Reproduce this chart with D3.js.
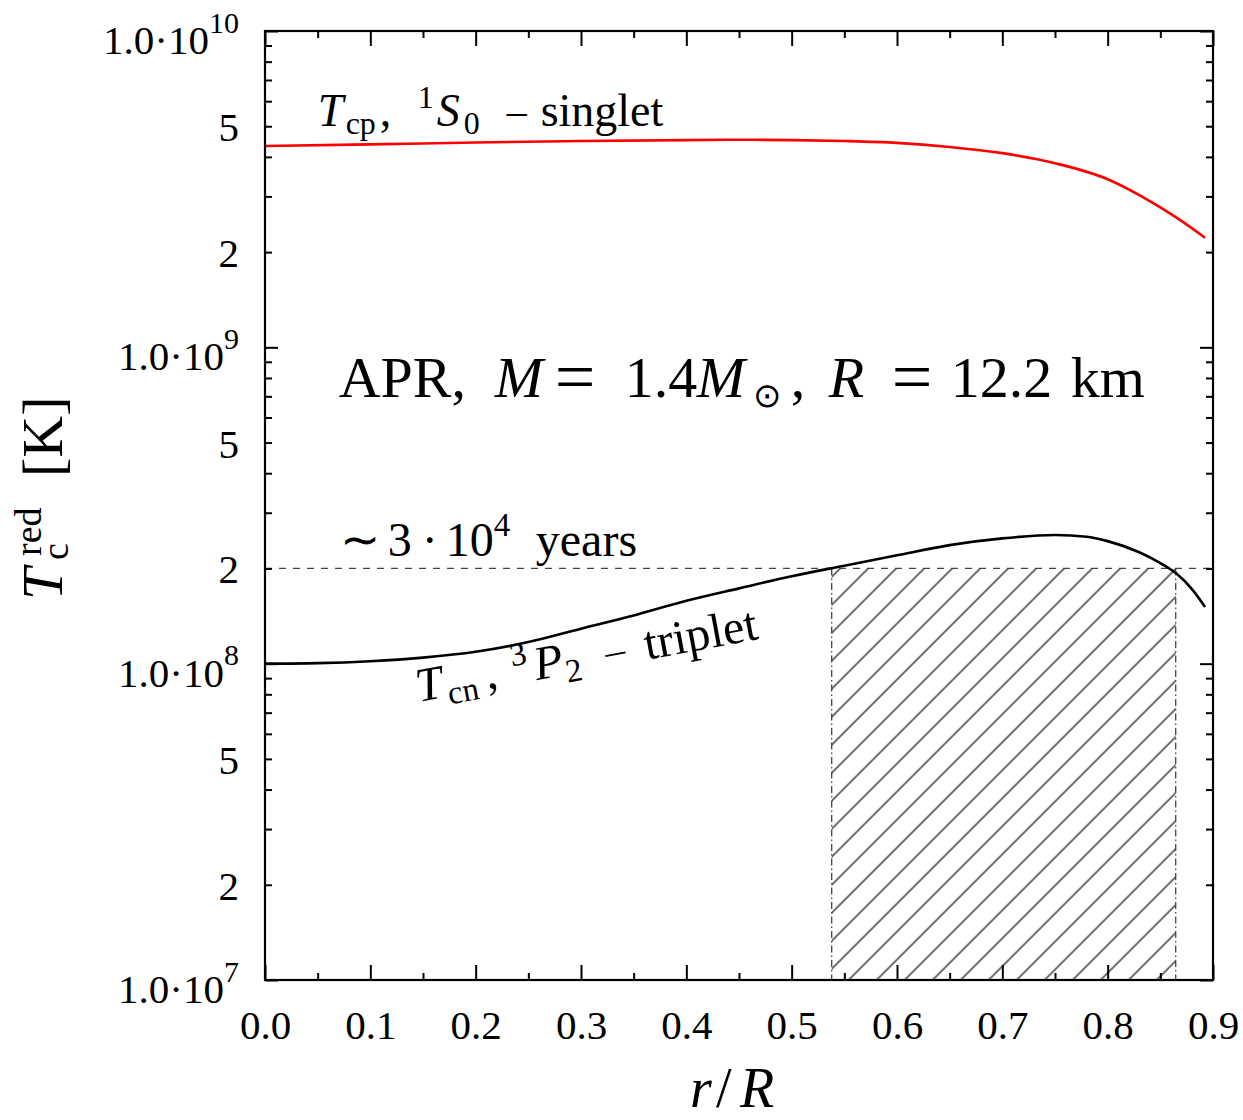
<!DOCTYPE html>
<html>
<head>
<meta charset="utf-8">
<script src="https://cdn.jsdelivr.net/npm/d3@7"></script>
<style>
  body { margin: 0; background: #fff; }
  svg text { font-family: "Liberation Serif", "Times New Roman", serif; fill: #000; }
</style>
</head>
<body>
<svg id="chart" width="1243" height="1120"></svg>
<script>
// ---- data ----
// proton 1S0 singlet, K
var rCp = [0, 0.1, 0.2, 0.3, 0.4, 0.45, 0.5, 0.55, 0.6, 0.65, 0.7, 0.75, 0.8, 0.83, 0.85, 0.87, 0.8925];
var tcpValues = [4.33e9, 4.38e9, 4.44e9, 4.49e9, 4.52e9, 4.53e9, 4.52e9, 4.49e9, 4.43e9, 4.30e9, 4.11e9, 3.82e9, 3.40e9, 3.03e9, 2.77e9, 2.51e9, 2.22e9];
// neutron 3P2 triplet, K
var rCn = [0, 0.05, 0.1, 0.15, 0.2, 0.25, 0.3, 0.35, 0.4, 0.45, 0.5, 0.55, 0.6, 0.65, 0.7, 0.75, 0.78, 0.8, 0.83, 0.85, 0.865, 0.88, 0.8925];
var tcnValues = [1.00e8, 1.004e8, 1.018e8, 1.045e8, 1.09e8, 1.17e8, 1.29e8, 1.42e8, 1.58e8, 1.73e8, 1.89e8, 2.04e8, 2.20e8, 2.37e8, 2.49e8, 2.55e8, 2.52e8, 2.44e8, 2.25e8, 2.08e8, 1.93e8, 1.72e8, 1.51e8];

var ageLevel = 2e8;            // ~3e4 years
var hatchRange = [0.538, 0.8646];

var xMajor = [0, 0.1, 0.2, 0.3, 0.4, 0.5, 0.6, 0.7, 0.8, 0.9];
var xMinor = [0.05, 0.15, 0.25, 0.35, 0.45, 0.55, 0.65, 0.75, 0.85];
var yDecades = [1e7, 1e8, 1e9, 1e10];
var yDecadeExp = ["7", "8", "9", "10"];
var yLabeledMinor = [2e7, 5e7, 2e8, 5e8, 2e9, 5e9];
var yMinorLabels = ["2", "5", "2", "5", "2", "5"];

var svg = d3.select("#chart");
var margin = {left: 265, right: 30, top: 31, bottom: 140};
var W = 1243, H = 1120;

var x = d3.scaleLinear().domain([0, 0.9]).range([margin.left, W - margin.right]);
var y = d3.scaleLog().domain([1e7, 1e10]).range([H - margin.bottom, margin.top]);

var yMinor = [];
yDecades.slice(0, 3).forEach(function (d) {
    for (var k = 2; k <= 9; k++) yMinor.push(d * k);
});

// hatch pattern
var defs = svg.append("defs");
defs.append("clipPath").attr("id", "plotclip")
    .append("rect")
    .attr("x", x(0)).attr("y", y(1e10))
    .attr("width", x(0.9) - x(0)).attr("height", y(1e7) - y(1e10));
var pat = defs.append("pattern")
    .attr("id", "hatch")
    .attr("patternUnits", "userSpaceOnUse")
    .attr("width", 19.8).attr("height", 20)
    .attr("patternTransform", "translate(" + x(hatchRange[0]) + "," + y(ageLevel) + ") rotate(45)");
pat.append("line")
    .attr("x1", 6).attr("y1", -5).attr("x2", 6).attr("y2", 25)
    .attr("stroke", "#333").attr("stroke-width", 1.4);

var plot = svg.append("g").attr("clip-path", "url(#plotclip)");

// hatched region below the age level
plot.append("rect")
    .attr("x", x(hatchRange[0]))
    .attr("y", y(ageLevel))
    .attr("width", x(hatchRange[1]) - x(hatchRange[0]))
    .attr("height", y(1e7) - y(ageLevel))
    .attr("fill", "url(#hatch)");

// vertical dash-dot borders of the region
plot.selectAll(".vb")
    .data(hatchRange)
    .enter().append("line")
    .attr("x1", function (d) { return x(d); })
    .attr("x2", function (d) { return x(d); })
    .attr("y1", y(ageLevel))
    .attr("y2", y(1e7))
    .attr("stroke", "#444")
    .attr("stroke-width", 1.3)
    .attr("stroke-dasharray", "7,3,1.5,3");

// horizontal dashed age line
plot.append("line")
    .attr("x1", x(0)).attr("x2", x(0.9))
    .attr("y1", y(ageLevel)).attr("y2", y(ageLevel))
    .attr("stroke", "#444")
    .attr("stroke-width", 1.3)
    .attr("stroke-dasharray", "7,7");

var line = d3.line()
    .x(function (d) { return x(d[0]); })
    .y(function (d) { return y(d[1]); })
    .curve(d3.curveMonotoneX);

plot.append("path")
    .attr("d", line(d3.zip(rCp, tcpValues)))
    .attr("fill", "none")
    .attr("stroke", "#ff0000")
    .attr("stroke-width", 2.6);

plot.append("path")
    .attr("d", line(d3.zip(rCn, tcnValues)))
    .attr("fill", "none")
    .attr("stroke", "#000")
    .attr("stroke-width", 2.6);

// ---- axes: ticks pointing inwards on all four sides ----
function tidy(g) {
    g.select(".domain").remove();
    g.selectAll(".tick line").attr("stroke", "#000").attr("stroke-width", 2);
}

svg.append("g")
    .attr("transform", "translate(0," + y(1e7) + ")")
    .call(d3.axisBottom(x).tickValues(xMajor).tickSizeInner(-15).tickSizeOuter(0)
        .tickPadding(30).tickFormat(d3.format(".1f")))
    .call(tidy)
    .call(function (g) {
        g.selectAll("text").attr("font-family", "Liberation Serif").attr("font-size", 41);
    });
svg.append("g")
    .attr("transform", "translate(0," + y(1e7) + ")")
    .call(d3.axisBottom(x).tickValues(xMinor).tickSize(-7).tickFormat(""))
    .call(tidy);
svg.append("g")
    .attr("transform", "translate(0," + y(1e10) + ")")
    .call(d3.axisTop(x).tickValues(xMajor).tickSize(-15).tickFormat(""))
    .call(tidy);
svg.append("g")
    .attr("transform", "translate(0," + y(1e10) + ")")
    .call(d3.axisTop(x).tickValues(xMinor).tickSize(-7).tickFormat(""))
    .call(tidy);

[[d3.axisLeft, x(0)], [d3.axisRight, x(0.9)]].forEach(function (a) {
    svg.append("g")
        .attr("transform", "translate(" + a[1] + ",0)")
        .call(a[0](y).tickValues(yDecades).tickSize(-13).tickFormat(""))
        .call(tidy);
    svg.append("g")
        .attr("transform", "translate(" + a[1] + ",0)")
        .call(a[0](y).tickValues(yMinor).tickSize(-7).tickFormat(""))
        .call(tidy);
});

// frame
svg.append("rect")
    .attr("x", x(0)).attr("y", y(1e10))
    .attr("width", x(0.9) - x(0)).attr("height", y(1e7) - y(1e10))
    .attr("fill", "none").attr("stroke", "#000").attr("stroke-width", 2.2);

// y tick labels
var yLab = svg.append("g").attr("font-size", 41).attr("text-anchor", "end");
yLab.selectAll(".dec")
    .data(d3.zip(yDecades, yDecadeExp))
    .enter().append("text")
    .attr("x", x(0) - 26)
    .attr("y", function (d) { return y(d[0]) + 23; })
    .each(function (d) {
        var t = d3.select(this);
        t.append("tspan").text("1.0\u00b710");
        t.append("tspan").attr("font-size", 30).attr("dy", -21.5).text(d[1]);
    });
yLab.selectAll(".min")
    .data(d3.zip(yLabeledMinor, yMinorLabels))
    .enter().append("text")
    .attr("x", x(0) - 26)
    .attr("y", function (d) { return y(d[0]) + 15; })
    .text(function (d) { return d[1]; });

// ---- rich text helper: parts placed at offsets from a start point ----
function mathText(g, x0, y0, size, parts) {
    var t = g.append("text").attr("x", x0).attr("y", y0).attr("font-size", size);
    var cur = 0;
    parts.forEach(function (p) {
        var off = p.off || 0;
        var ts = t.append("tspan").text(p.t).attr("dy", off - cur);
        cur = off;
        if (p.at !== undefined) ts.attr("x", x0 + p.at);
        if (p.i) ts.attr("font-style", "italic");
        if (p.s) ts.attr("font-size", p.s);
    });
    return t;
}

var notes = svg.append("g");

mathText(notes, x(0.05), y(5.0e9), 46, [
    {t: "T", i: 1, at: 0},
    {t: "cp", s: 32, off: 8, at: 28},
    {t: ",", at: 62},
    {t: "1", s: 32, off: -18, at: 100},
    {t: "S", i: 1, at: 119},
    {t: "0", s: 32, off: 8, at: 146},
    {t: "\u2013", s: 40, off: -2, at: 189},
    {t: "singlet", at: 223}
]);

mathText(notes, x(0.07), y(6.97e8), 58, [
    {t: "APR,", at: 0},
    {t: "M", i: 1, at: 156},
    {t: "=", s: 72, off: 4, at: 216},
    {t: "1.4", at: 286},
    {t: "M", i: 1, at: 358},
    {t: "\u2299", s: 34, off: 10, at: 414},
    {t: ",", at: 452},
    {t: "R", i: 1, at: 490},
    {t: "=", s: 72, off: 4, at: 553},
    {t: "12.2", at: 612},
    {t: "km", at: 732}
]);

mathText(notes, x(0.071), y(2.19e8), 48, [
    {t: "\u223c", at: 0},
    {t: "3", at: 48},
    {t: "\u00b7", at: 82},
    {t: "10", at: 106},
    {t: "4", s: 33, off: -20, at: 154},
    {t: "years", at: 196}
]);

var tri = notes.append("g")
    .attr("transform", "translate(" + x(0.146) + "," + y(7.56e7) + ") rotate(-10.5)");
mathText(tri, 0, 0, 48, [
    {t: "T", i: 1, at: 0},
    {t: "cn", s: 33, off: 8, at: 30},
    {t: ",", at: 70},
    {t: "3", s: 33, off: -18, at: 98},
    {t: "P", i: 1, at: 120},
    {t: "2", s: 33, off: 8, at: 150},
    {t: "\u2013", s: 40, off: -2, at: 192},
    {t: "triplet", at: 232}
]);

// axis titles
mathText(svg, 690, 1107, 56, [
    {t: "r", i: 1, at: 0},
    {t: "/", at: 26},
    {t: "R", i: 1, at: 50}
]);

var yt = svg.append("g").attr("transform", "translate(62,600) rotate(-90)");
yt.append("text").attr("font-size", 58).attr("font-style", "italic").text("T");
yt.append("text").attr("font-size", 38).attr("x", 44).attr("y", -21).text("red");
yt.append("text").attr("font-size", 38).attr("x", 40).attr("y", 6).text("c");
yt.append("text").attr("font-size", 58).attr("x", 123).text("[K]");
</script>
</body>
</html>
